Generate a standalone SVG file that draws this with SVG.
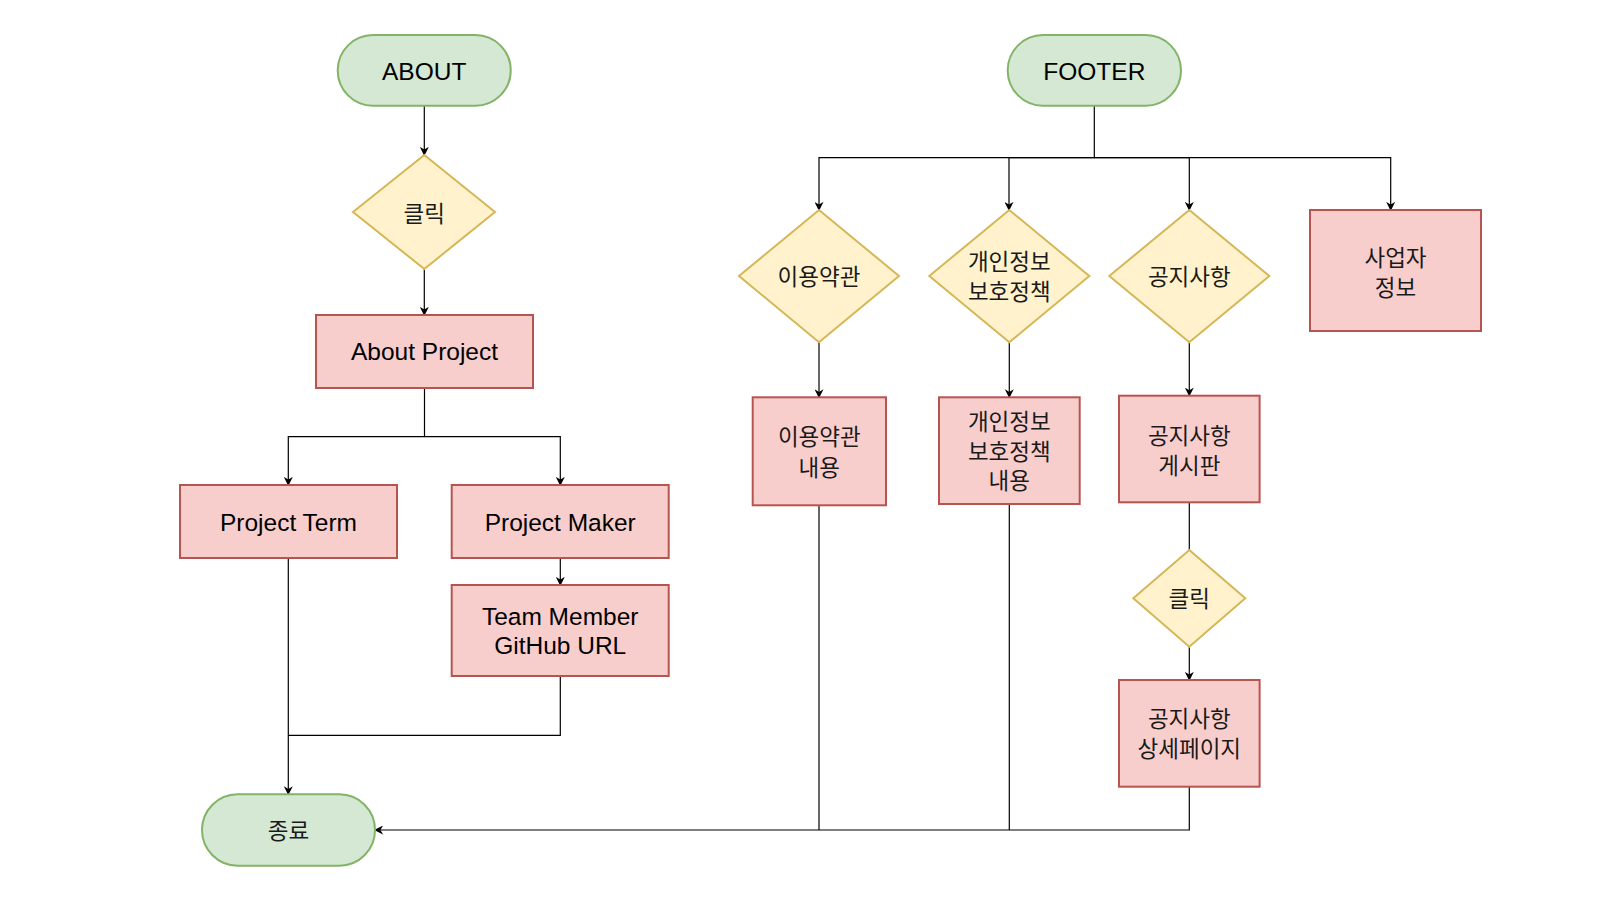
<svg xmlns="http://www.w3.org/2000/svg" width="1600" height="900" viewBox="0 0 1600 900">
<defs>
<style>
.t{font-family:"Liberation Sans","Noto Sans CJK KR",Arial,sans-serif;font-size:24.5px;fill:#000;text-anchor:middle}
.k{font-family:"Noto Sans CJK KR","Liberation Sans",sans-serif;font-size:22.5px;fill:#1a1a1a;text-anchor:middle}
.term{fill:#d5e8d4;stroke:#82b366;stroke-width:2}
.dec{fill:#fff2cc;stroke:#d6b656;stroke-width:2}
.proc{fill:#f8cecc;stroke:#b85450;stroke-width:2}
.c{fill:none;stroke:#000;stroke-width:1.2}
</style>
<marker id="a" viewBox="0 0 10 10" refX="9" refY="5" markerWidth="9" markerHeight="9" markerUnits="userSpaceOnUse" orient="auto">
<path d="M0,0 L10,5 L0,10 L3,5 z" fill="#000"/>
</marker>
</defs>
<rect width="1600" height="900" fill="#fff"/>

<g id="connectors">
<path class="c" d="M424.3,105.7 V155" marker-end="url(#a)"/>
<path class="c" d="M424.3,269 V315" marker-end="url(#a)"/>
<path class="c" d="M424.5,388 V436.7 H288.3 V485" marker-end="url(#a)"/>
<path class="c" d="M424.5,436.7 H560.3 V485" marker-end="url(#a)"/>
<path class="c" d="M560.3,558 V585" marker-end="url(#a)"/>
<path class="c" d="M288.3,558 V794.3" marker-end="url(#a)"/>
<path class="c" d="M560.3,676 V735.3 H288.3"/>
<path class="c" d="M1094.3,105.7 V157.7 H819 V210" marker-end="url(#a)"/>
<path class="c" d="M1094.3,157.7 H1009 V210" marker-end="url(#a)"/>
<path class="c" d="M1094.3,157.7 H1189.3 V210" marker-end="url(#a)"/>
<path class="c" d="M1094.3,157.7 H1390.7 V210" marker-end="url(#a)"/>
<path class="c" d="M819,342.3 V397.3" marker-end="url(#a)"/>
<path class="c" d="M1009.3,342.3 V397.3" marker-end="url(#a)"/>
<path class="c" d="M1189.3,342.3 V395.7" marker-end="url(#a)"/>
<path class="c" d="M1189.3,502.3 V550"/>
<path class="c" d="M1189.3,646.7 V680" marker-end="url(#a)"/>
<path class="c" d="M819,505.3 V830"/>
<path class="c" d="M1009.3,504 V830"/>
<path class="c" d="M1189.3,786.7 V830 H375" marker-end="url(#a)"/>
</g>

<g id="about">
<rect class="term" x="337.7" y="35" width="173" height="70.7" rx="35.3"/>
<text class="t" x="424.2" y="79.5">ABOUT</text>
</g>
<g id="click1">
<polygon class="dec" points="424.3,155 495,212 424.3,269 353,212"/>
<text class="k" x="424.3" y="221.5">클릭</text>
</g>
<g id="about-project">
<rect class="proc" x="316" y="315" width="217" height="73"/>
<text class="t" x="424.5" y="360">About Project</text>
</g>
<g id="project-term">
<rect class="proc" x="180" y="485" width="217" height="73"/>
<text class="t" x="288.5" y="530.5">Project Term</text>
</g>
<g id="project-maker">
<rect class="proc" x="451.7" y="485" width="217" height="73"/>
<text class="t" x="560.2" y="530.5">Project Maker</text>
</g>
<g id="team-member">
<rect class="proc" x="451.7" y="585" width="217" height="91"/>
<text class="t" x="560.2" y="624.5">Team Member</text>
<text class="t" x="560.2" y="654">GitHub URL</text>
</g>
<g id="end">
<rect class="term" x="202" y="794.3" width="173" height="71.4" rx="35.7"/>
<text class="k" x="288.5" y="838.5">종료</text>
</g>

<g id="footer">
<rect class="term" x="1007.7" y="35" width="173.3" height="70.7" rx="35.3"/>
<text class="t" x="1094.3" y="79.5">FOOTER</text>
</g>
<g id="terms">
<polygon class="dec" points="819,210 899,276 819,342.3 739,276"/>
<text class="k" x="819" y="285">이용약관</text>
</g>
<g id="privacy">
<polygon class="dec" points="1009.3,210 1089.3,276 1009.3,342.3 929.3,276"/>
<text class="k" x="1009.3" y="270">개인정보</text>
<text class="k" x="1009.3" y="299.5">보호정책</text>
</g>
<g id="notice">
<polygon class="dec" points="1189.3,210 1269.3,276 1189.3,342.3 1109.3,276"/>
<text class="k" x="1189.3" y="285">공지사항</text>
</g>
<g id="business">
<rect class="proc" x="1310" y="210" width="171" height="121"/>
<text class="k" x="1395.5" y="266">사업자</text>
<text class="k" x="1395.5" y="295.5">정보</text>
</g>
<g id="terms-content">
<rect class="proc" x="752.7" y="397.3" width="133.3" height="108"/>
<text class="k" x="819.3" y="445">이용약관</text>
<text class="k" x="819.3" y="475.5">내용</text>
</g>
<g id="privacy-content">
<rect class="proc" x="939" y="397.3" width="140.7" height="106.7"/>
<text class="k" x="1009.3" y="430">개인정보</text>
<text class="k" x="1009.3" y="459.5">보호정책</text>
<text class="k" x="1009.3" y="489">내용</text>
</g>
<g id="notice-board">
<rect class="proc" x="1119" y="395.7" width="140.6" height="106.6"/>
<text class="k" x="1189.3" y="443.5">공지사항</text>
<text class="k" x="1189.3" y="473.5">게시판</text>
</g>
<g id="click2">
<polygon class="dec" points="1189.3,550 1245.3,598.3 1189.3,646.7 1133.3,598.3"/>
<text class="k" x="1189.3" y="606.8">클릭</text>
</g>
<g id="notice-detail">
<rect class="proc" x="1119" y="680" width="140.6" height="106.7"/>
<text class="k" x="1189.3" y="726.8">공지사항</text>
<text class="k" x="1189.3" y="756.8">상세페이지</text>
</g>
</svg>
